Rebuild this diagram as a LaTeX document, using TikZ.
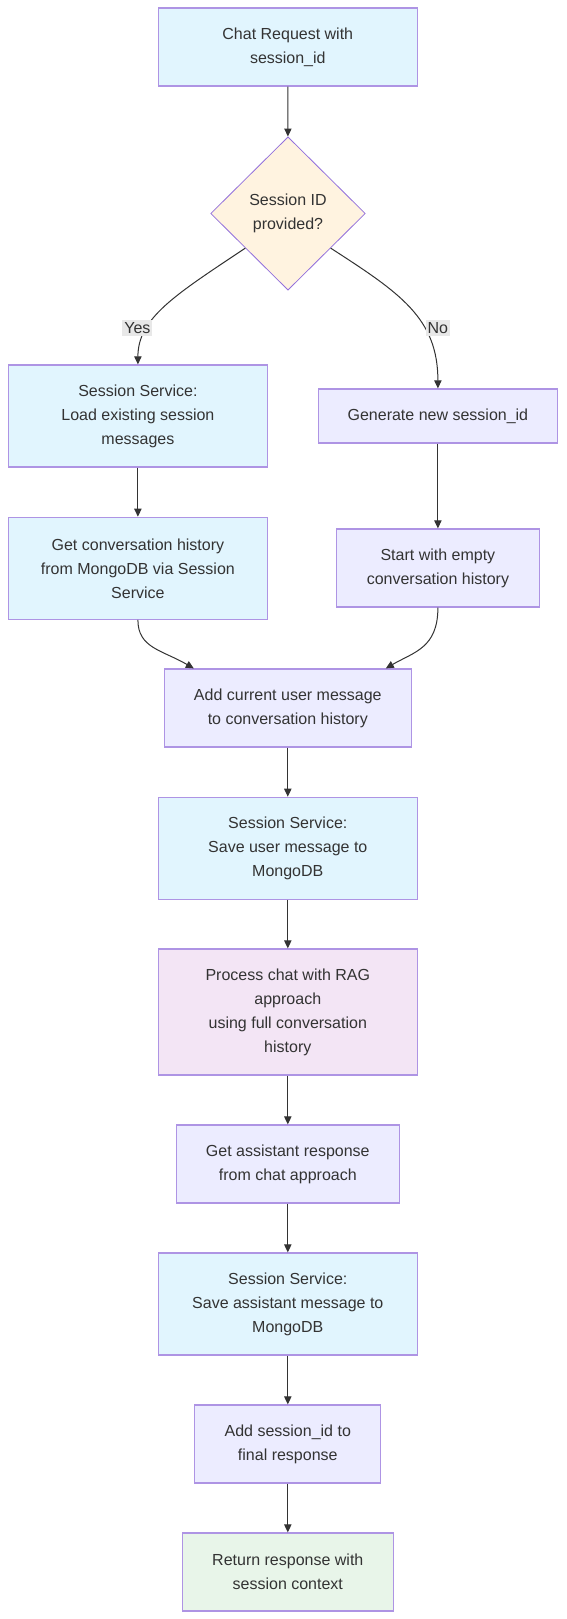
\documentclass[tikz,border=0pt]{standalone}
\usepackage{fontspec}
\setmainfont{Liberation Sans}
\usetikzlibrary{shapes.geometric,arrows.meta,calc}
\definecolor{txt}{HTML}{333333}
\definecolor{bord}{HTML}{9370DB}
\definecolor{fblue}{HTML}{E1F5FE}
\definecolor{fdef}{HTML}{ECECFF}
\definecolor{fpink}{HTML}{F3E5F5}
\definecolor{fgreen}{HTML}{E8F5E9}
\definecolor{forange}{HTML}{FFF3E0}
\definecolor{lblbg}{HTML}{E8E8E8}
\definecolor{edge}{HTML}{333333}
\tikzset{
  base/.style={rectangle, draw=bord!75!white, line width=0.9pt, text=txt, align=center,
    font=\fontsize{12}{18}\selectfont, inner sep=0pt, minimum height=58.5pt},
  bluebox/.style={base, fill=fblue},
  defbox/.style={base, fill=fdef},
  pinkbox/.style={base, fill=fpink},
  greenbox/.style={base, fill=fgreen},
  decision/.style={diamond, draw=bord, line width=0.6pt, fill=forange, text=txt, align=center,
    font=\fontsize{12}{18}\selectfont, inner sep=0pt, minimum width=116pt, minimum height=115pt},
  elabel/.style={fill=lblbg, text=txt, font=\fontsize{12}{14}\selectfont, inner sep=1.5pt},
  arr/.style={draw=edge, line width=0.75pt, -{Triangle[length=6pt,width=5.5pt]}}
}
\begin{document}
\begin{tikzpicture}[x=0.75pt,y=-0.75pt]
\useasboundingbox (0,0) rectangle (567,1619);
\node[bluebox, minimum width=194.4pt] (a) at (287.8,47) {Chat Request with\\session\_id};
\node[decision] (d) at (288,213.5) {Session ID\\provided?};
\node[bluebox, minimum width=194.4pt, minimum height=76.5pt] (b) at (137.9,416) {Session Service:\\Load existing session\\messages};
\node[defbox, minimum width=179.7pt, minimum height=40.5pt] (c) at (437.9,416) {Generate new session\_id};
\node[bluebox, minimum width=194.4pt, minimum height=76.5pt] (e) at (137.9,568.3) {Get conversation history\\from MongoDB via Session\\Service};
\node[defbox, minimum width=151.8pt] (f) at (437.9,568) {Start with empty\\conversation history};
\node[defbox, minimum width=185.1pt] (g) at (287.8,708) {Add current user message\\to conversation history};
\node[bluebox, minimum width=194.4pt, minimum height=76.5pt] (h) at (287.8,848.3) {Session Service:\\Save user message to\\MongoDB};
\node[pinkbox, minimum width=194.4pt, minimum height=94.5pt] (i) at (287.8,1012) {Process chat with RAG\\approach\\using full conversation\\history};
\node[defbox, minimum width=167.3pt] (j) at (287.8,1164) {Get assistant response\\from chat approach};
\node[bluebox, minimum width=194.4pt, minimum height=76.5pt] (k) at (287.8,1304) {Session Service:\\Save assistant message to\\MongoDB};
\node[defbox, minimum width=139.4pt] (l) at (287.8,1444) {Add session\_id to\\final response};
\node[greenbox, minimum width=158pt] (m) at (287.8,1572) {Return response with\\session context};

\coordinate (dy) at ($(d.west)!0.45!(d.south)$);
\coordinate (dn) at ($(d.east)!0.45!(d.south)$);
\coordinate (gl) at ($(g.north west)+(30,0)$);
\coordinate (gr) at ($(g.north east)+(-26,0)$);

\draw[arr] (a) -- (d);
\draw[arr] (dy) .. controls (175,295) and (137.9,318) .. (b.north);
\draw[arr] (dn) .. controls (400,293) and (437.9,318) .. (c.north);
\node[elabel] (ly) at (137.4,328) {Yes};
\node[elabel] (ln) at (437.9,328) {No};
\draw[arr] (b) -- (e);
\draw[arr] (c) -- (f);
\draw[arr] (e.south) .. controls (137.9,648) and (162,650) .. (gl);
\draw[arr] (f.south) .. controls (437.9,648) and (414,652) .. (gr);
\draw[arr] (g) -- (h);
\draw[arr] (h) -- (i);
\draw[arr] (i) -- (j);
\draw[arr] (j) -- (k);
\draw[arr] (k) -- (l);
\draw[arr] (l) -- (m);
\end{tikzpicture}
\end{document}
